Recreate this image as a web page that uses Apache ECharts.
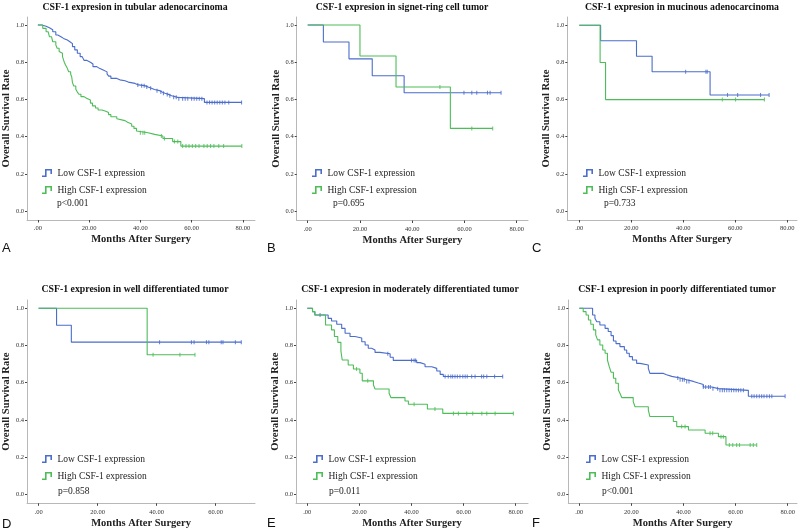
<!DOCTYPE html>
<html><head><meta charset="utf-8">
<script src="https://cdn.jsdelivr.net/npm/echarts@6/dist/echarts.min.js"></script>
<style>html,body{margin:0;padding:0;background:#fff}#c{width:800px;height:531px}</style>
</head><body><div id="c"></div><script>
// ---------- DATA ----------
const titles = [
  'CSF-1 expresion in tubular adenocarcinoma',
  'CSF-1 expresion in signet-ring cell tumor',
  'CSF-1 expresion in mucinous adenocarcinoma',
  'CSF-1 expresion in well differentiated tumor',
  'CSF-1 expresion in moderately differentiated tumor',
  'CSF-1 expresion in poorly differentiated tumor'
];
const panelLetters = ['A','B','C','D','E','F'];
const pValues = ['p<0.001','p=0.695','p=0.733','p=0.858','p=0.011','p<0.001'];
const seriesNames = ['Low CSF-1 expression','High CSF-1 expression'];
const yTicks = [0, 0.2, 0.4, 0.6, 0.8, 1.0];
const xTicks80 = [0, 20, 40, 60, 80];
const xTicks60 = [0, 20, 40, 60];
const xName = 'Months After Surgery';
const yName = 'Overall Survival Rate';

// A: tubular adenocarcinoma
const aLowTime = [1.5,3.2,4.5,5.8,7,7.8,9,10,11.5,12.5,13.5,14.4,15.4,16.5,17.3,18,19,20.5,21.5,23,24,25.5,27,27.6,28.5,30.8,32,34,35.3,37.9,39.3,41.7,43,44.3,45.5,47.5,48.5,49.6,51,52.2,54.6,65];
const aLowSurv = [0.993,0.985,0.975,0.964,0.946,0.937,0.928,0.919,0.91,0.90,0.884,0.866,0.848,0.83,0.82,0.81,0.80,0.79,0.776,0.767,0.758,0.748,0.737,0.725,0.713,0.705,0.70,0.693,0.686,0.678,0.674,0.667,0.66,0.653,0.647,0.64,0.633,0.627,0.62,0.611,0.604,0.584];
const aLowCens = [39,40.5,41.5,42.5,44,46.5,48,49,50.5,51.5,53,54,55,56.5,57.5,58.5,60,61,62,63,64,66,67,68,69,70,71,72,73,74.5,79.5];
const aHighTime = [1.9,3.2,4,4.5,5.3,5.8,7,7.5,8.3,9,9.6,10,10.3,10.8,11.5,12,12.8,13.2,13.5,14,14.8,15.3,16,16.8,18,19,20.5,21.3,22.5,23.5,25,26.5,27.6,28.5,30.8,31.5,34,35,36.6,37.5,38.5,39,43,45.6,48.8,52.6,55.8];
const aHighSurv = [0.982,0.964,0.955,0.937,0.928,0.91,0.893,0.875,0.857,0.848,0.83,0.82,0.80,0.785,0.767,0.749,0.735,0.722,0.69,0.672,0.655,0.642,0.628,0.615,0.606,0.597,0.58,0.565,0.554,0.543,0.536,0.529,0.518,0.507,0.496,0.486,0.477,0.468,0.456,0.444,0.43,0.421,0.412,0.403,0.39,0.373,0.349];
const aHighCens = [40,41,41.7,48.2,49.4,53.3,54.6,56.5,57.8,59,60.3,61.6,62.9,64.8,66.1,67.4,68.7,70.6,72.5,79.6];

// B: signet-ring cell tumor
const bLowTime = [6,15.8,24.7,36.9];
const bLowSurv = [0.909,0.818,0.727,0.636];
const bLowCens = [59.8,62.8,64.7,68.8,69.8,74];
const bHighTime = [20,33.8,54.6];
const bHighSurv = [0.833,0.667,0.444];
const bHighCens = [50.6,62.8,70.8];

// C: mucinous adenocarcinoma
const cLowTime = [8.2,22,28,50.3];
const cLowSurv = [0.917,0.833,0.75,0.625];
const cLowCens = [40.9,48.7,49.2,57,60.9,69.7,73];
const cHighTime = [8,10.1];
const cHighSurv = [0.8,0.6];
const cHighCens = [55,60.1,71.2];

// D: well differentiated
const dLowTime = [6.1,11.1];
const dLowSurv = [0.909,0.818];
const dLowCens = [41,51.8,52.7,56.9,57.7,61.9,62.5,66.7,68.7];
const dHighTime = [36.8];
const dHighSurv = [0.75];
const dHighCens = [38.8,47.9,53];

// E: moderately differentiated
const eLowTime = [2,2.9,8,9.3,11.3,13.2,14.5,16.4,18.3,20.9,22.2,23.4,24.7,26,27.9,31.8,33,42,43.3,45.2,47.8,49.7,51,52.2];
const eLowSurv = [0.982,0.964,0.946,0.932,0.914,0.892,0.866,0.848,0.84,0.82,0.803,0.785,0.776,0.763,0.756,0.737,0.72,0.708,0.699,0.686,0.677,0.663,0.645,0.633];
const eLowCens = [4.9,30.9,40,41,41.6,52.9,54.1,55.1,55.8,56.7,57.6,58.6,59.7,60.6,61.4,63.1,64.4,66.9,67.7,68.9,71.9,75];
const eHighTime = [2,2.9,7,9.3,10.4,11.7,12.9,13.4,15.7,17.7,20.2,21.1,25.4,26,31.4,32.1,37.5,38.8,46.1,52];
const eHighSurv = [0.982,0.964,0.91,0.884,0.848,0.817,0.771,0.722,0.695,0.674,0.651,0.61,0.588,0.566,0.543,0.52,0.502,0.484,0.459,0.435];
const eHighCens = [18.9,23.2,41,49,56.1,58,61.2,63.5,67,68.9,72.1,79.1];

// F: poorly differentiated
const fLowTime = [5.1,6,6.7,7.9,9.9,11.1,12.2,13.1,14.1,15.6,17.3,18.2,19.2,20.4,22,23.3,26.5,27.1,32.3,33.5,35.5,38.7,41.2,43.8,45.7,47.6,50.8,53.4,64.9];
const fLowSurv = [0.964,0.946,0.928,0.91,0.892,0.875,0.853,0.824,0.81,0.794,0.776,0.758,0.74,0.722,0.704,0.695,0.677,0.65,0.643,0.634,0.625,0.616,0.607,0.598,0.59,0.577,0.568,0.559,0.527];
const fLowCens = [37.8,38.7,39.6,40.3,41.2,42.1,47.6,48.5,49.6,50.3,51.3,53.1,54,54.9,55.7,56.6,57.5,58.4,59.3,60.2,61.1,62,63,66.2,67.1,68.1,69.1,70,70.9,72,73,73.9,79];
const fHighTime = [1.5,2.6,3.5,4.4,5.4,6.3,7,7.9,9,9.9,10.8,11.5,12.2,13.1,14,15,15.6,16.3,20.7,21.4,26.5,27.1,36.1,37.4,41.9,48.3,53.4,56.3];
const fHighSurv = [0.982,0.964,0.937,0.914,0.884,0.857,0.83,0.803,0.776,0.758,0.722,0.686,0.656,0.624,0.597,0.561,0.543,0.52,0.498,0.471,0.453,0.418,0.391,0.364,0.346,0.328,0.31,0.265];
const fHighCens = [39.3,40.6,50.2,51.2,54.4,55.3,57.6,58.9,60.4,61.5,65.6,66.8,68.1];

const panelData = [
  {low:[aLowTime,aLowSurv,aLowCens], high:[aHighTime,aHighSurv,aHighCens], xt:xTicks80},
  {low:[bLowTime,bLowSurv,bLowCens], high:[bHighTime,bHighSurv,bHighCens], xt:xTicks80},
  {low:[cLowTime,cLowSurv,cLowCens], high:[cHighTime,cHighSurv,cHighCens], xt:xTicks80},
  {low:[dLowTime,dLowSurv,dLowCens], high:[dHighTime,dHighSurv,dHighCens], xt:xTicks60},
  {low:[eLowTime,eLowSurv,eLowCens], high:[eHighTime,eHighSurv,eHighCens], xt:xTicks80},
  {low:[fLowTime,fLowSurv,fLowCens], high:[fHighTime,fHighSurv,fHighCens], xt:xTicks80}
];

// ---------- LAYOUT (pixels) ----------
const layout = [
  {x0:35,    ppm:2.596, left:24,    right:255, y1:25,    y0:211,   bottom:220,   top:17},
  {x0:307.7, ppm:2.613, left:296.7, right:528, y1:25,    y0:211,   bottom:220.5, top:17},
  {x0:579.3, ppm:2.60,  left:567.3, right:797, y1:25.3,  y0:211,   bottom:220,   top:17},
  {x0:35.7,  ppm:2.99,  left:24,    right:255, y1:308.3, y0:494.3, bottom:503.3, top:300},
  {x0:307.3, ppm:2.605, left:296,   right:528, y1:308.3, y0:494.3, bottom:503.3, top:300},
  {x0:579.3, ppm:2.605, left:568.3, right:797, y1:308.3, y0:494.3, bottom:503.3, top:300}
];
const titlePos = [[135,7],[402,7],[682,7],[135,289],[410,289],[677,289]];
const legendPos = [[42,168],[312,168],[583,168],[42,454],[313,454],[586,454]];
const pPos = [[57,203.5],[333,203.5],[604,203.5],[58,491],[329,491],[602,491]];
const letterPos = [[2,248],[267,248],[532,248],[2,524],[267,523],[532,523]];

const BLUE = '#4b6dcc', GREEN = '#4dbd58';
const SERIF = '"Liberation Serif","Times New Roman",serif';
const STEP_ICON = 'path://M0,9 L4.6,9 L4.6,2.6 L8.4,2.6 L8.4,6 L10,6 L10,1 L3,1 L3,7.4 L0,7.4 Z';

function survAt(times, surv, t){
  let s = 1;
  for (let i=0;i<times.length;i++){ if (times[i] <= t) s = surv[i]; }
  return s;
}
function stepData(times, surv, cens){
  const d = [[0,1]];
  times.forEach((t,i)=>d.push([t,surv[i]]));
  const end = Math.max(times[times.length-1], cens.length ? cens[cens.length-1] : 0);
  d.push([end, surv[surv.length-1]]);
  return d;
}

const grids=[], xAxes=[], yAxes=[], series=[], legends=[], graphics=[];
layout.forEach((L,i)=>{
  const P = panelData[i];
  grids.push({left:L.left, top:L.top, width:L.right-L.left, height:L.bottom-L.top, containLabel:false});
  xAxes.push({
    type:'value', gridIndex:i,
    min:(L.left-L.x0)/L.ppm, max:(L.right-L.x0)/L.ppm,
    name:xName, nameLocation:'middle', nameGap:14,
    nameTextStyle:{fontFamily:SERIF, fontWeight:'bold', fontSize:10.5, color:'#222'},
    axisLine:{show:true, onZero:false, lineStyle:{color:'#b8b8b8', width:1}},
    axisTick:{show:true, length:2.5, customValues:P.xt, lineStyle:{color:'#444'}},
    axisLabel:{customValues:P.xt, margin:5, fontFamily:SERIF, fontSize:6.5, color:'#333',
      formatter:v=> v===0 ? '.00' : v.toFixed(2)},
    splitLine:{show:false}
  });
  yAxes.push({
    type:'value', gridIndex:i,
    min:-(L.bottom-L.y0)/(L.y0-L.y1), max:(L.y0-L.top)/(L.y0-L.y1),
    name:yName, nameLocation:'middle', nameGap:12, nameRotate:90,
    nameTextStyle:{fontFamily:SERIF, fontWeight:'bold', fontSize:10.5, color:'#222'},
    axisLine:{show:true, onZero:false, lineStyle:{color:'#b8b8b8', width:1}},
    axisTick:{show:true, length:2, customValues:yTicks, lineStyle:{color:'#444'}},
    axisLabel:{customValues:yTicks, margin:3, fontFamily:SERIF, fontSize:6.5, color:'#333',
      formatter:v=>v.toFixed(1)},
    splitLine:{show:false}
  });
  [['low',BLUE,0],['high',GREEN,1]].forEach(([k,col,ni])=>{
    const [tm, sv, cs] = P[k];
    series.push({
      type:'line', name:seriesNames[ni], xAxisIndex:i, yAxisIndex:i,
      step:'end', data:stepData(tm,sv,cs), showSymbol:false, symbol:'none',
      lineStyle:{color:col, width:1.1}, itemStyle:{color:col}, silent:true, animation:false
    });
    series.push({
      type:'scatter', xAxisIndex:i, yAxisIndex:i,
      data:cs.map(t=>[t, survAt(tm,sv,t)]),
      symbol:'rect', symbolSize:[1.1,4], itemStyle:{color:col}, silent:true, animation:false
    });
  });
  legends.push({
    left:legendPos[i][0], top:legendPos[i][1], orient:'vertical', itemGap:7, padding:0,
    itemWidth:11, itemHeight:8, selectedMode:false,
    icon:STEP_ICON,
    data:seriesNames,
    textStyle:{fontFamily:SERIF, fontSize:9.5, lineHeight:10, color:'#222'}
  });
  graphics.push({type:'text', x:titlePos[i][0], y:titlePos[i][1],
    style:{text:titles[i], font:'bold 9.8px '+SERIF, fill:'#111', align:'center', verticalAlign:'middle'}});
  graphics.push({type:'text', x:pPos[i][0], y:pPos[i][1],
    style:{text:pValues[i], font:'9.5px '+SERIF, fill:'#222', align:'left', verticalAlign:'middle'}});
  graphics.push({type:'text', x:letterPos[i][0], y:letterPos[i][1],
    style:{text:panelLetters[i], font:'13px "Liberation Sans",Arial,sans-serif', fill:'#111', align:'left', verticalAlign:'middle'}});
});

const chart = echarts.init(document.getElementById('c'), null, {renderer:'canvas'});
chart.setOption({
  backgroundColor:'#fff', animation:false,
  grid:grids, xAxis:xAxes, yAxis:yAxes, series:series, legend:legends,
  graphic:graphics
});
</script></body></html>
